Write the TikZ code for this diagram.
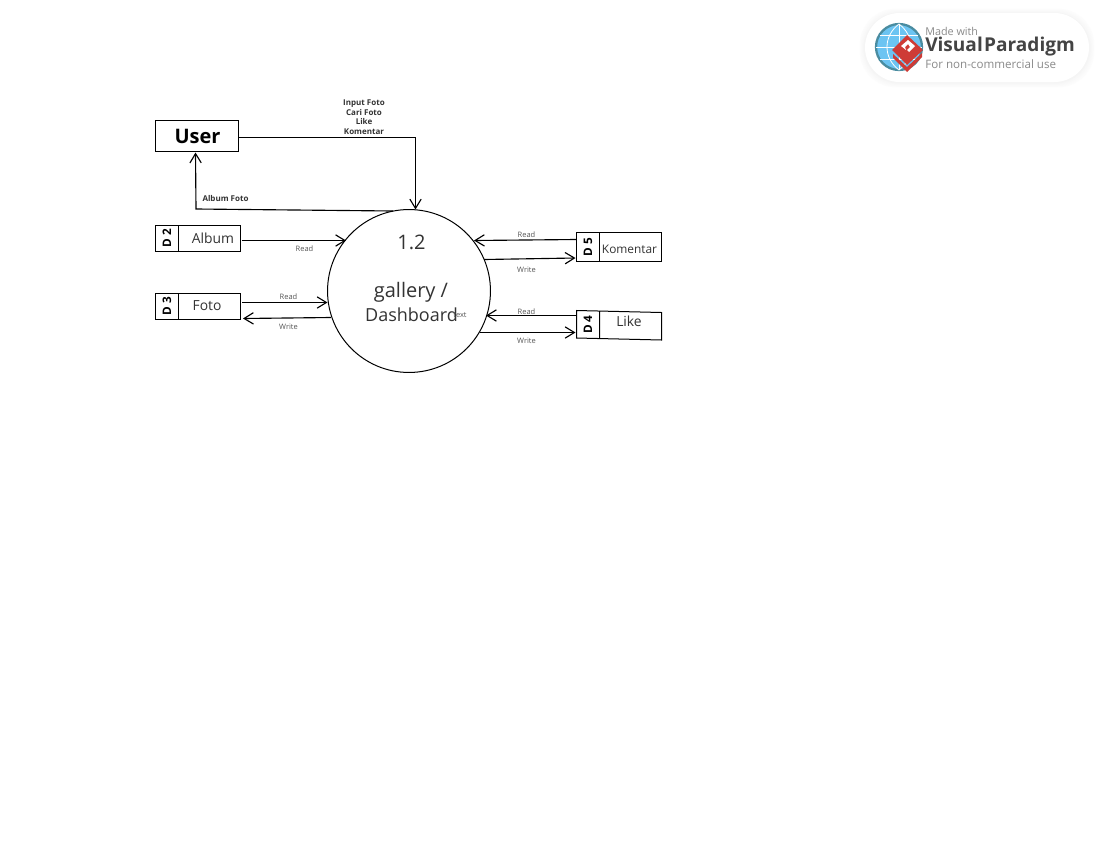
\documentclass[tikz,border=0pt]{standalone}
\usepackage{fontspec}
\setmainfont{Open Sans}
\usetikzlibrary{arrows.meta,calc}
\definecolor{lbl}{HTML}{555555}
\definecolor{txt}{HTML}{333333}
\definecolor{vpgray}{HTML}{444444}
\definecolor{vplight}{HTML}{8A8A8A}
\definecolor{vpred}{HTML}{CE3B36}
\definecolor{vpblue}{HTML}{6CC4F2}
\definecolor{vpring}{HTML}{4A8CA0}
\newcommand{\pxf}[2]{\fontsize{#1}{#2}\selectfont}
\tikzset{
  x=0.75pt,y=-0.75pt,
  flow/.style={draw=black,line width=0.85pt,-{Straight Barb[length=7pt,width=8.5pt,line width=0.85pt]}},
  box/.style={draw=black,line width=0.75pt,fill=white},
  lab/.style={inner sep=0pt,text=lbl,font=\pxf{5.6}{6.5}},
  boldlab/.style={inner sep=0pt,text=txt,align=center,font=\pxf{6}{7.1}\bfseries},
  storeid/.style={inner sep=0pt,rotate=90,text=black,font=\pxf{8.8}{10}\bfseries},
  storename/.style={inner sep=0pt,text=txt,font=\pxf{10.4}{12}},
  procstyle/.style={inner sep=0pt,text=txt},
  anchorpt/.style={inner sep=0pt,minimum size=0pt},
}
\begin{document}
\begin{tikzpicture}
\useasboundingbox[fill=white] (0,0) rectangle (1100,850);

% Visual Paradigm badge
\foreach \g/\c in {7/FCFCFC,5/FAFAFA,3/F8F8F8,1/F5F5F5}{
  \definecolor{sh}{HTML}{\c}
  \fill[sh,rounded corners=27pt] (864-\g*0.6,13-\g*0.6) rectangle (1090+\g*0.6,83+\g*0.6);
}
\fill[white,rounded corners=26pt] (865,13) rectangle (1089,82);
\fill[vpblue] (899,47) circle[radius=23];
\draw[vpring,line width=1.7pt] (899,47) circle[radius=23];
\draw[white,line width=0.6pt] (899,24) -- (899,70) (876,47) -- (922,47) (880,35) -- (918,35) (880,59) -- (918,59);
\draw[white,line width=0.6pt] (899,24) .. controls (883,36) and (883,58) .. (899,70);
\draw[white,line width=0.6pt] (899,24) .. controls (915,36) and (915,58) .. (899,70);
\fill[vpred] (893,58) -- (907,72) -- (922,57) -- (922,53) -- (907,67) -- (893,54) -- cycle;
\fill[vpred] (892,50) -- (907,35) -- (923,50) -- (907,65) -- cycle;
\fill[white] (901,46) -- (908,40) -- (915,46) -- (909,52) -- (907,50) -- (910,47) -- (908,44) -- (905,47) -- (906,50) -- cycle;
\node[anchor=west,inner sep=0pt,text=vplight,font=\pxf{8.1}{10}] (vpmade) at (925,31) {Made with};
\node[anchor=west,inner sep=0pt,text=vpgray,font=\pxf{14.3}{18}\bfseries] (vpname) at (925,47) {Visual\kern1pt Paradigm};
\node[anchor=west,inner sep=0pt,text=vplight,font=\pxf{8.7}{10}] (vpnote) at (925,64) {For non-commercial use};

% Process
\node[draw=black,line width=0.75pt,circle,minimum size=122.2pt,inner sep=0pt] (proc) at (409,291) {};
\node[procstyle,font=\pxf{15}{18}] (pnum) at (411.5,242) {1.2};
\node[procstyle,font=\pxf{15}{18}] (pname) at (411,292) {gallery /};
\node[procstyle,font=\pxf{13.5}{17}] (pdash) at (411.5,314.5) {Dashboard};
\node[lab] (ptext) at (460,315) {text};

% External entity
\node[box,minimum width=62.25pt,minimum height=23.25pt,inner sep=0pt,font=\pxf{15}{18}\bfseries,text=black] (user) at (197,135.5) {};
\node[inner sep=0pt,font=\pxf{15}{18}\bfseries,text=black] (usertext) at (197.5,136.5) {User};

% Data stores
\draw[box] (155.5,225.5) rectangle (240.5,251) (178.5,225.5) -- (178.5,251);
\draw[box] (155.5,293.5) rectangle (240.5,319.5) (178.5,293.5) -- (178.5,319.5);
\draw[box] (576.5,232.5) rectangle (661.5,261) (599.5,232.5) -- (599.5,261);
\draw[box] (576.5,310.5) -- (661.5,312.5) -- (661.5,340) -- (576.5,338) -- cycle (599.5,311) -- (599.5,338.5);
\node[storeid] (d2) at (167,238) {D 2};
\node[storeid] (d3) at (167,306.5) {D 3};
\node[storeid] (d5) at (588,247) {D 5};
\node[storeid] (d4) at (588,324.5) {D 4};
\node[storename] (album) at (213,238) {Album};
\node[storename] (foto) at (207,306) {Foto};
\node[storename,font=\pxf{8.9}{11}] (komentar) at (629.5,249) {Komentar};
\node[storename] (like) at (629,321) {Like};

% Anchor points on the shapes
\coordinate (uin) at (415.5,209.5);
\coordinate (ubend) at (415.5,137.5);
\coordinate (aout) at (393,211);
\coordinate (abend) at (196,209);
\coordinate (ain) at (195.5,152.5);
\coordinate (d2out) at (241.5,240.5);
\coordinate (d2in) at (346,240.5);
\coordinate (d3out) at (242,302.5);
\coordinate (d3in) at (327.5,302.5);
\coordinate (d3wout) at (331,317.5);
\coordinate (d3win) at (243,318.5);
\coordinate (d5out) at (576.5,239.5);
\coordinate (d5in) at (474,240.5);
\coordinate (d5wout) at (484,259.5);
\coordinate (d5win) at (575.5,258);
\coordinate (d4out) at (576,315.5);
\coordinate (d4in) at (486,315.5);
\coordinate (d4wout) at (480,332.5);
\coordinate (d4win) at (575.5,332.5);

% Flows
\draw[flow] (user.east |- ubend) -- (ubend) -- (uin);
\draw[flow] (aout) -- (abend) -- (ain);
\draw[flow] (d2out) -- (d2in);
\draw[flow] (d3out) -- (d3in);
\draw[flow] (d3wout) -- (d3win);
\draw[flow] (d5out) -- (d5in);
\draw[flow] (d5wout) -- (d5win);
\draw[flow] (d4out) -- (d4in);
\draw[flow] (d4wout) -- (d4win);

% Flow labels
\node[boldlab] (linput) at (364,117) {Input Foto\\Cari Foto\\Like\\Komentar};
\node[boldlab] (lalbum) at (225.5,198.5) {Album Foto};
\node[lab] (l1) at (304.5,248.5) {Read};
\node[lab] (l2) at (288.5,296.5) {Read};
\node[lab] (l3) at (288.5,327) {Write};
\node[lab] (l4) at (526.5,234.5) {Read};
\node[lab] (l5) at (526.5,269.5) {Write};
\node[lab] (l6) at (526.5,311.5) {Read};
\node[lab] (l7) at (526.5,340.5) {Write};
\end{tikzpicture}
\end{document}
